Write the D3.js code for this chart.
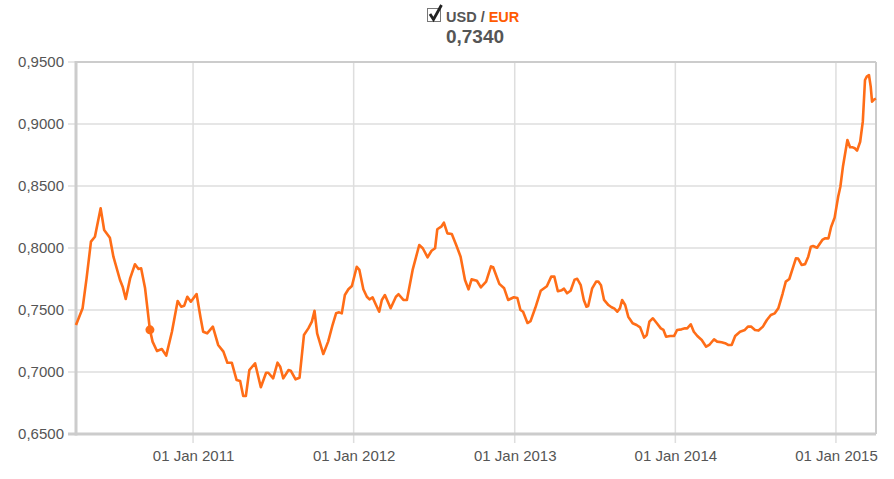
<!DOCTYPE html>
<html><head><meta charset="utf-8">
<script src="https://cdn.jsdelivr.net/npm/d3@7"></script>
<style>
html,body{margin:0;padding:0;background:#fff;}
svg{display:block;font-family:"Liberation Sans",Arial,sans-serif;}
</style></head>
<body><svg id="chart" width="894" height="479"></svg>
<script>
const baseCurrency = "USD";
const quoteCurrency = "EUR";
const dates = ["2010-04-10","2010-04-25","2010-05-04","2010-05-14","2010-05-23","2010-06-05","2010-06-13","2010-06-26","2010-07-04","2010-07-19","2010-07-25","2010-08-01","2010-08-11","2010-08-22","2010-08-30","2010-09-05","2010-09-14","2010-09-25","2010-10-01","2010-10-11","2010-10-22","2010-11-01","2010-11-14","2010-11-27","2010-12-05","2010-12-12","2010-12-19","2010-12-27",
"2011-01-09","2011-01-18","2011-01-24","2011-02-02","2011-02-15","2011-02-27","2011-03-11","2011-03-20","2011-03-30","2011-04-10","2011-04-18","2011-04-25","2011-05-01","2011-05-09","2011-05-22","2011-06-04","2011-06-16","2011-06-21","2011-07-02","2011-07-12","2011-07-18","2011-07-25","2011-08-06","2011-08-11","2011-08-22","2011-08-31","2011-09-10","2011-09-20","2011-09-28","2011-10-04","2011-10-10","2011-10-24","2011-11-04","2011-11-14","2011-11-22","2011-11-29","2011-12-05","2011-12-12","2011-12-20","2011-12-28",
"2012-01-08","2012-01-14","2012-01-23","2012-01-31","2012-02-06","2012-02-13","2012-02-19","2012-02-28","2012-03-05","2012-03-12","2012-03-25","2012-04-06","2012-04-12","2012-04-23","2012-05-01","2012-05-14","2012-05-29","2012-06-06","2012-06-17","2012-06-26","2012-07-04","2012-07-09","2012-07-18","2012-07-24","2012-08-01","2012-08-11","2012-08-21","2012-08-31","2012-09-10","2012-09-18","2012-09-25","2012-10-07","2012-10-16","2012-10-28","2012-11-08","2012-11-13","2012-11-27","2012-12-08","2012-12-17","2012-12-30",
"2013-01-07","2013-01-14","2013-01-20","2013-01-30","2013-02-06","2013-02-17","2013-03-01","2013-03-15","2013-03-25","2013-04-01","2013-04-09","2013-04-18","2013-04-23","2013-04-30","2013-05-08","2013-05-17","2013-05-23","2013-05-31","2013-06-07","2013-06-13","2013-06-17","2013-06-26","2013-07-05","2013-07-10","2013-07-16","2013-07-23","2013-08-02","2013-08-09","2013-08-15","2013-08-22","2013-08-28","2013-09-02","2013-09-09","2013-09-16","2013-09-26","2013-10-05","2013-10-13","2013-10-22","2013-10-28","2013-11-03","2013-11-11","2013-11-20","2013-11-29","2013-12-05","2013-12-11","2013-12-20","2013-12-29",
"2014-01-05","2014-01-15","2014-01-23","2014-01-28","2014-02-05","2014-02-12","2014-02-20","2014-03-02","2014-03-12","2014-03-19","2014-03-30","2014-04-06","2014-04-16","2014-04-24","2014-05-01","2014-05-09","2014-05-17","2014-05-28","2014-06-08","2014-06-15","2014-06-22","2014-07-01","2014-07-09","2014-07-19","2014-07-28","2014-08-06","2014-08-15","2014-08-23","2014-09-02","2014-09-09","2014-09-17","2014-09-26","2014-10-02","2014-10-07","2014-10-15","2014-10-23","2014-10-30","2014-11-05","2014-11-10","2014-11-19","2014-12-01","2014-12-07","2014-12-15","2014-12-21","2014-12-29",
"2015-01-06","2015-01-11","2015-01-17","2015-01-27","2015-02-02","2015-02-08","2015-02-13","2015-02-18","2015-02-25","2015-03-03","2015-03-08","2015-03-12","2015-03-17","2015-03-21","2015-03-24","2015-03-29","2015-04-02"];
const rates = [0.7379,0.7514,0.7755,0.8051,0.8091,0.8320,0.8145,0.8083,0.7930,0.7742,0.7688,0.7589,0.7755,0.7869,0.7831,0.7836,0.7675,0.7340,0.7245,0.7169,0.7185,0.7132,0.7325,0.7573,0.7527,0.7535,0.7607,0.7567,
0.7629,0.7440,0.7325,0.7312,0.7366,0.7218,0.7164,0.7075,0.7075,0.6935,0.6927,0.6806,0.6806,0.7016,0.7070,0.6877,0.6994,0.6994,0.6949,0.7075,0.7043,0.6949,0.7016,0.7011,0.6941,0.6954,0.7298,0.7352,0.7406,0.7494,0.7312,0.7145,0.7245,0.7379,0.7473,0.7481,0.7473,0.7621,0.7667,0.7694,
0.7849,0.7823,0.7667,0.7607,0.7586,0.7602,0.7554,0.7486,0.7581,0.7621,0.7514,0.7607,0.7627,0.7581,0.7581,0.7823,0.8024,0.7998,0.7925,0.7978,0.7998,0.8151,0.8172,0.8204,0.8118,0.8113,0.8024,0.7930,0.7742,0.7667,0.7747,0.7736,0.7683,0.7729,0.7852,0.7845,0.7711,0.7675,0.7581,0.7603,
0.7597,0.7500,0.7486,0.7395,0.7410,0.7520,0.7655,0.7692,0.7769,0.7769,0.7651,0.7660,0.7672,0.7635,0.7655,0.7745,0.7752,0.7700,0.7581,0.7527,0.7532,0.7675,0.7729,0.7729,0.7700,0.7581,0.7540,0.7522,0.7513,0.7486,0.7513,0.7581,0.7540,0.7446,0.7393,0.7379,0.7360,0.7277,0.7298,0.7406,0.7433,0.7393,0.7352,0.7339,0.7285,0.7290,0.7290,
0.7339,0.7344,0.7352,0.7352,0.7385,0.7325,0.7290,0.7258,0.7204,0.7218,0.7264,0.7245,0.7240,0.7232,0.7218,0.7218,0.7290,0.7325,0.7339,0.7366,0.7366,0.7339,0.7334,0.7366,0.7419,0.7460,0.7473,0.7514,0.7635,0.7729,0.7750,0.7849,0.7917,0.7915,0.7863,0.7870,0.7930,0.8011,0.8016,0.8002,0.8065,0.8078,0.8078,0.8170,0.8245,
0.8414,0.8494,0.8660,0.8871,0.8812,0.8812,0.8804,0.8785,0.8857,0.9019,0.9355,0.9382,0.9395,0.9301,0.9180,0.9199,0.9205];
const yTicks = [0.65,0.70,0.75,0.80,0.85,0.90,0.95];
const xTickDates = ["2011-01-01","2012-01-01","2013-01-01","2014-01-01","2015-01-01"];
const highlightDate = "2010-09-25";

const parse = d3.timeParse("%Y-%m-%d");
const data = dates.map((d,i)=>({date:parse(d), value:rates[i]}));
const hl = data.find(d => +d.date === +parse(highlightDate));

const svg = d3.select("#chart");
const L=76, R=876, T=62, B=434;
const x = d3.scaleTime().domain(d3.extent(data,d=>d.date)).range([L,R]);
const y = d3.scaleLinear().domain([0.65,0.95]).range([B,T]);
const loc = d3.formatLocale({decimal:",",thousands:".",grouping:[3],currency:["","€"]});
const fmt = loc.format(".4f");
const grid="#dedede", axisCol="#cccccc", txt="#555555", lineCol="#ff6d17";

// horizontal grid
svg.append("g").selectAll("line").data(yTicks).join("line")
  .attr("x1",L-8).attr("x2",R).attr("y1",d=>y(d)).attr("y2",d=>y(d))
  .attr("stroke",grid).attr("stroke-width",1.5);
// vertical grid
svg.append("g").selectAll("line").data(xTickDates.map(parse)).join("line")
  .attr("x1",d=>x(d)).attr("x2",d=>x(d)).attr("y1",T).attr("y2",B+9)
  .attr("stroke",grid).attr("stroke-width",1.5);

// border
svg.append("line").attr("x1",L).attr("x2",R).attr("y1",T).attr("y2",T).attr("stroke",axisCol).attr("stroke-width",2);
svg.append("line").attr("x1",R).attr("x2",R).attr("y1",T).attr("y2",B).attr("stroke",axisCol).attr("stroke-width",2);
svg.append("line").attr("x1",L).attr("x2",L).attr("y1",T-1).attr("y2",B+1.5).attr("stroke",axisCol).attr("stroke-width",3);
svg.append("line").attr("x1",L-8).attr("x2",R).attr("y1",B).attr("y2",B).attr("stroke",axisCol).attr("stroke-width",3);

// axes labels via d3 axes
const yAxis = svg.append("g").attr("transform",`translate(${L},0)`)
  .call(d3.axisLeft(y).tickValues(yTicks).tickFormat(fmt).tickSize(0).tickPadding(12));
yAxis.select(".domain").remove();
yAxis.selectAll("text").attr("fill",txt).style("font-size","15px");

const xAxis = svg.append("g").attr("transform",`translate(0,${B})`)
  .call(d3.axisBottom(x).tickValues(xTickDates.map(parse)).tickFormat(d3.timeFormat("%d %b %Y")).tickSize(0).tickPadding(16));
xAxis.select(".domain").remove();
xAxis.selectAll("text").attr("fill",txt).style("font-size","15px");

// line
svg.append("path").datum(data)
  .attr("d", d3.line().x(d=>x(d.date)).y(d=>y(d.value)))
  .attr("fill","none").attr("stroke",lineCol).attr("stroke-width",2.6).attr("stroke-linejoin","round");

// marker
svg.append("circle").attr("cx",x(hl.date)).attr("cy",y(hl.value)).attr("r",4.5).attr("fill",lineCol);

// header
const hdr = svg.append("g");
hdr.append("rect").attr("x",427.5).attr("y",8.5).attr("width",13).attr("height",13).attr("fill","#fff").attr("stroke","#777").attr("stroke-width",1);
hdr.append("path").attr("d","M430,14 L433.5,19.5 L441.5,5").attr("fill","none").attr("stroke","#222").attr("stroke-width",2.8);
const t = hdr.append("text").attr("x",446).attr("y",21.5).style("font-size","14.5px").style("font-weight","bold");
t.append("tspan").attr("fill",txt).text(baseCurrency+" / ");
t.append("tspan").attr("fill","#ff5a00").text(quoteCurrency);
hdr.append("text").attr("x",475).attr("y",43).attr("text-anchor","middle").attr("fill",txt)
  .style("font-size","19px").style("font-weight","bold").text(fmt(hl.value));
</script></body></html>
